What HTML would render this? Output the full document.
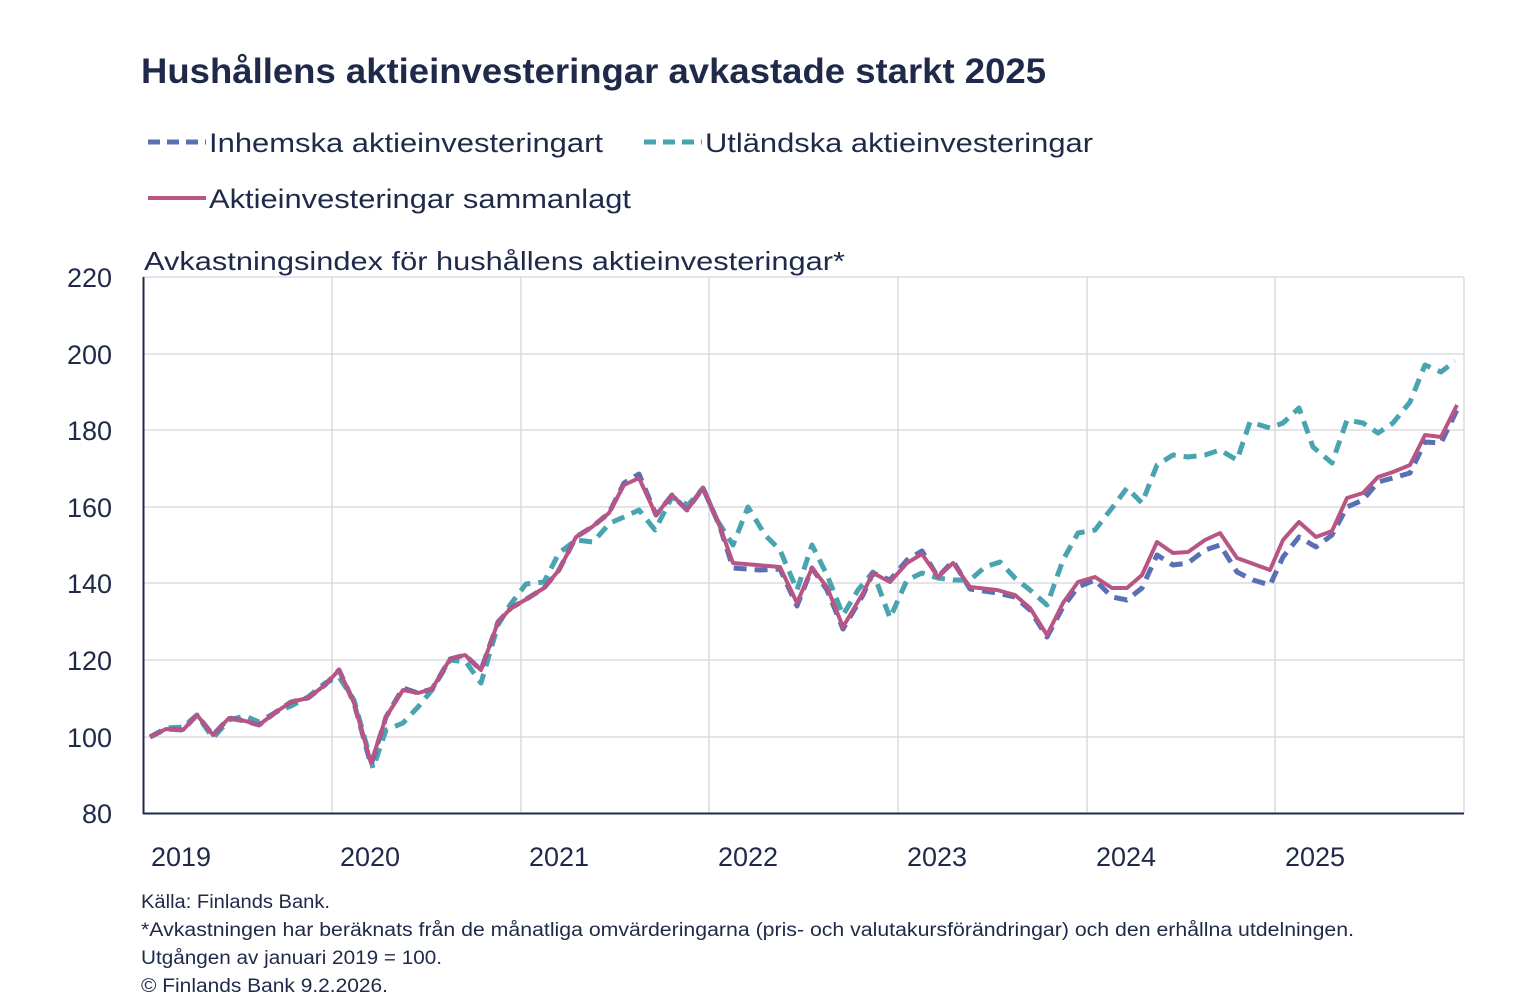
<!DOCTYPE html>
<html><head><meta charset="utf-8"><style>
body{margin:0;background:#fff;width:1532px;height:1002px;overflow:hidden;font-family:"Liberation Sans",sans-serif;color:#1f2a4a}
</style></head><body>
<svg width="1532" height="1002" xmlns="http://www.w3.org/2000/svg" style="position:absolute;left:0;top:0">
<g font-family="Liberation Sans, sans-serif" fill="#1f2a4a">
<text x="141" y="83" font-size="35" font-weight="bold" textLength="905" lengthAdjust="spacingAndGlyphs">Hushållens aktieinvesteringar avkastade starkt 2025</text>
<line x1="148" y1="142" x2="206" y2="142" stroke="#5b6fb3" stroke-width="5" stroke-dasharray="12,7"/>
<text x="209" y="152" font-size="27" textLength="394" lengthAdjust="spacingAndGlyphs">Inhemska aktieinvesteringart</text>
<line x1="644" y1="142" x2="702" y2="142" stroke="#4aa3b0" stroke-width="5" stroke-dasharray="12,7"/>
<text x="705" y="152" font-size="27" textLength="388" lengthAdjust="spacingAndGlyphs">Utländska aktieinvesteringar</text>
<line x1="148" y1="198" x2="206" y2="198" stroke="#b85585" stroke-width="4"/>
<text x="209" y="208" font-size="27" textLength="422" lengthAdjust="spacingAndGlyphs">Aktieinvesteringar sammanlagt</text>
<text x="144" y="270" font-size="26" textLength="701" lengthAdjust="spacingAndGlyphs">Avkastningsindex för hushållens aktieinvesteringar*</text>
<g stroke="#d4d4dc" stroke-width="1.3">
<line x1="143" y1="277" x2="1464" y2="277"/><line x1="143" y1="354" x2="1464" y2="354"/><line x1="143" y1="430" x2="1464" y2="430"/><line x1="143" y1="507" x2="1464" y2="507"/><line x1="143" y1="583" x2="1464" y2="583"/><line x1="143" y1="660" x2="1464" y2="660"/><line x1="143" y1="737" x2="1464" y2="737"/>
<line x1="332" y1="277" x2="332" y2="813"/><line x1="521" y1="277" x2="521" y2="813"/><line x1="709" y1="277" x2="709" y2="813"/><line x1="898" y1="277" x2="898" y2="813"/><line x1="1087" y1="277" x2="1087" y2="813"/><line x1="1275" y1="277" x2="1275" y2="813"/><line x1="1464" y1="277" x2="1464" y2="813"/>
</g>
<line x1="143.5" y1="277" x2="143.5" y2="814" stroke="#1f2a4a" stroke-width="2"/>
<line x1="143" y1="813.5" x2="1464" y2="813.5" stroke="#1f2a4a" stroke-width="2"/>
<g font-size="27" text-anchor="end">
<text x="112" y="287">220</text><text x="112" y="364">200</text><text x="112" y="440">180</text><text x="112" y="517">160</text><text x="112" y="593">140</text><text x="112" y="670">120</text><text x="112" y="747">100</text><text x="112" y="823">80</text>
</g>
<g font-size="27" text-anchor="middle">
<text x="181" y="866">2019</text><text x="370" y="866">2020</text><text x="559" y="866">2021</text><text x="748" y="866">2022</text><text x="937" y="866">2023</text><text x="1126" y="866">2024</text><text x="1315" y="866">2025</text>
</g>
<g font-size="19">
<text x="141" y="908" textLength="189" lengthAdjust="spacingAndGlyphs">Källa: Finlands Bank.</text>
<text x="141" y="936" textLength="1213" lengthAdjust="spacingAndGlyphs">*Avkastningen har beräknats från de månatliga omvärderingarna (pris- och valutakursförändringar) och den erhållna utdelningen.</text>
<text x="141" y="964" textLength="301" lengthAdjust="spacingAndGlyphs">Utgången av januari 2019 = 100.</text>
<text x="141" y="992" textLength="247" lengthAdjust="spacingAndGlyphs">© Finlands Bank 9.2.2026.</text>
</g>
</g>
<g fill="none" stroke-linejoin="round">
<polyline stroke="#4aa3b0" stroke-width="5" stroke-dasharray="13,8" points="150,737 166,728 183,727 197,715 213,738 229,720 245,716 259,722 276,712 291,706 308,697 325,683 339,677 354,700 373,768 386,730 403,723 418,707 432,690 450,660 466,662 481,683 498,625 510,605 526,584 544,582 559,553 576,540 593,542 610,523 624,517 639,510 655,530 672,497 688,505 703,488 717,520 733,545 748,507 765,535 780,550 797,590 812,545 827,575 843,615 858,590 873,572 890,618 907,580 922,573 938,578 953,580 970,580 985,567 1000,562 1015,578 1030,590 1047,605 1063,560 1078,533 1095,530 1112,508 1127,488 1142,503 1157,465 1173,455 1188,457 1205,455 1220,450 1237,460 1250,422 1270,428 1283,423 1299,408 1313,447 1332,463 1347,420 1363,423 1378,433 1393,423 1410,402 1425,365 1441,372 1455,361"/>
<polyline stroke="#5b6fb3" stroke-width="5" stroke-dasharray="13,8" points="150,737 166,729 183,730 197,715 213,735 229,718 245,721 259,725 276,712 291,702 308,698 325,685 339,670 354,703 371,765 386,717 403,688 418,693 432,689 450,659 465,655 481,670 498,622 511,608 525,600 544,588 559,570 576,537 592,527 609,513 624,483 639,474 656,515 672,495 687,510 703,488 720,527 733,568 760,570 780,569 797,606 812,568 827,590 843,629 863,595 873,573 890,580 907,560 922,551 938,577 953,561 970,589 997,593 1015,597 1030,610 1047,637 1063,607 1078,587 1095,580 1112,597 1127,600 1142,588 1157,555 1173,565 1188,563 1205,550 1220,545 1237,572 1253,580 1270,585 1283,557 1299,537 1316,547 1332,535 1347,507 1363,500 1378,482 1393,478 1410,473 1425,442 1441,443 1457,410"/>
<polyline stroke="#b85585" stroke-width="4" points="150,737 166,729 183,730 197,715 213,735 229,718 245,721 259,725 276,712 291,702 308,698 325,685 339,670 354,703 371,763 386,717 403,690 418,693 432,689 450,659 465,655 481,670 498,622 511,608 525,600 544,588 559,570 576,537 592,527 609,513 624,485 639,478 656,515 672,495 687,510 703,488 720,527 733,563 780,567 797,603 812,568 827,587 843,627 863,593 873,573 890,582 907,563 922,554 938,577 953,563 970,587 997,590 1015,595 1030,608 1047,635 1063,603 1078,582 1095,577 1112,588 1127,588 1142,575 1157,542 1173,553 1188,552 1205,540 1220,533 1237,558 1270,570 1283,540 1299,522 1316,537 1332,531 1347,498 1363,493 1378,477 1393,472 1410,465 1425,435 1441,437 1457,405"/>
</g>
</svg>
</body></html>
